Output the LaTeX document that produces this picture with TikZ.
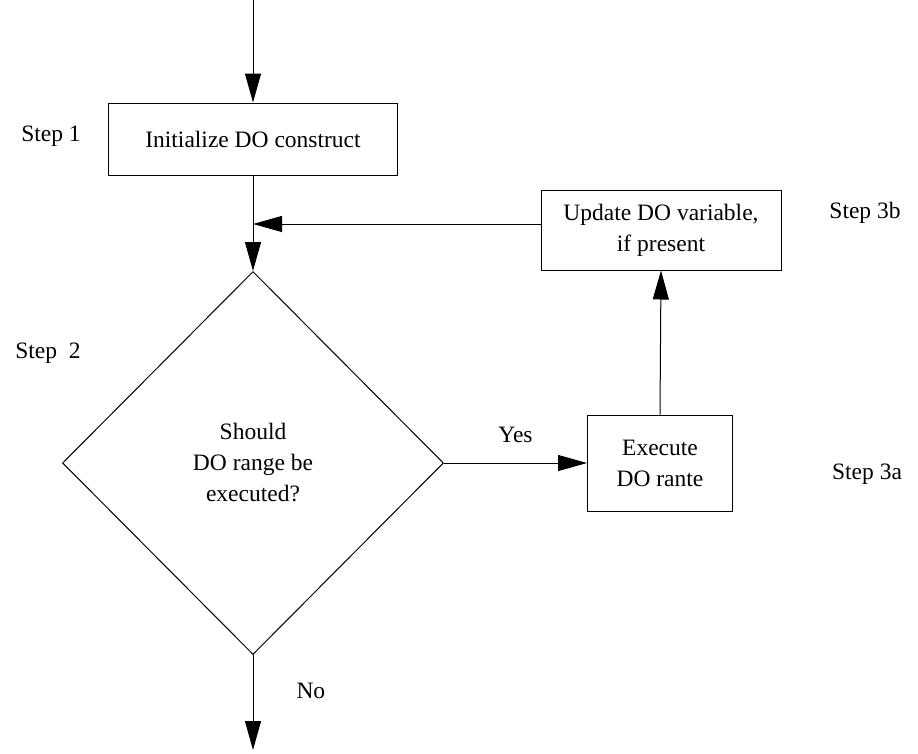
\documentclass[tikz,border=0pt]{standalone}
\usepackage{fontspec}
\setmainfont{Liberation Serif}
\usetikzlibrary{shapes.geometric,arrows.meta}
\begin{document}
\begin{tikzpicture}[x=1pt,y=-1pt,
  every node/.style={font=\fontsize{23.5}{31}\selectfont, align=center, inner sep=0pt},
  procbox/.style={draw, line width=1pt, rectangle},
  decision/.style={draw, line width=1pt, diamond, minimum width=381pt, minimum height=383pt},
  flow/.style={line width=1pt, -{Triangle[length=29pt,width=16pt]}}]
  \useasboundingbox (0,0) rectangle (918,753);

  % process boxes and the decision
  \node[procbox, minimum width=289pt, minimum height=72pt] (init) at (253,139) {Initialize DO construct};
  \node[decision] (test) at (253,463) {Should\\DO range be\\executed?};
  \node[procbox, minimum width=145pt, minimum height=96pt] (exec) at (660,463) {Execute\\DO rante};
  \node[procbox, minimum width=240pt, minimum height=80pt] (update) at (661,230) {Update DO variable,\\if present};

  % step labels
  \node (s1) at (51,136) {Step 1};
  \node (s2) at (48,353) {Step\ \ 2};
  \node (s3a) at (867,474) {Step 3a};
  \node (s3b) at (865,213) {Step 3b};

  % free ends and junction
  \coordinate (entry) at (253,0);
  \coordinate (exit) at (253,750);
  \coordinate (join) at (253,224);

  % connectors
  \draw[flow] (entry) -- (init.north);
  \draw[flow] (init.south) -- (test.north);
  \draw[flow] (update.west |- join) -- (join);
  \draw[flow] (test.east) -- node[above=20pt] (yes) {Yes} (exec.west);
  \draw[flow] (exec.north) -- (update.south);
  \draw[flow] (test.south) -- node[right=43pt, pos=0.38] (no) {No} (exit);
\end{tikzpicture}
\end{document}
